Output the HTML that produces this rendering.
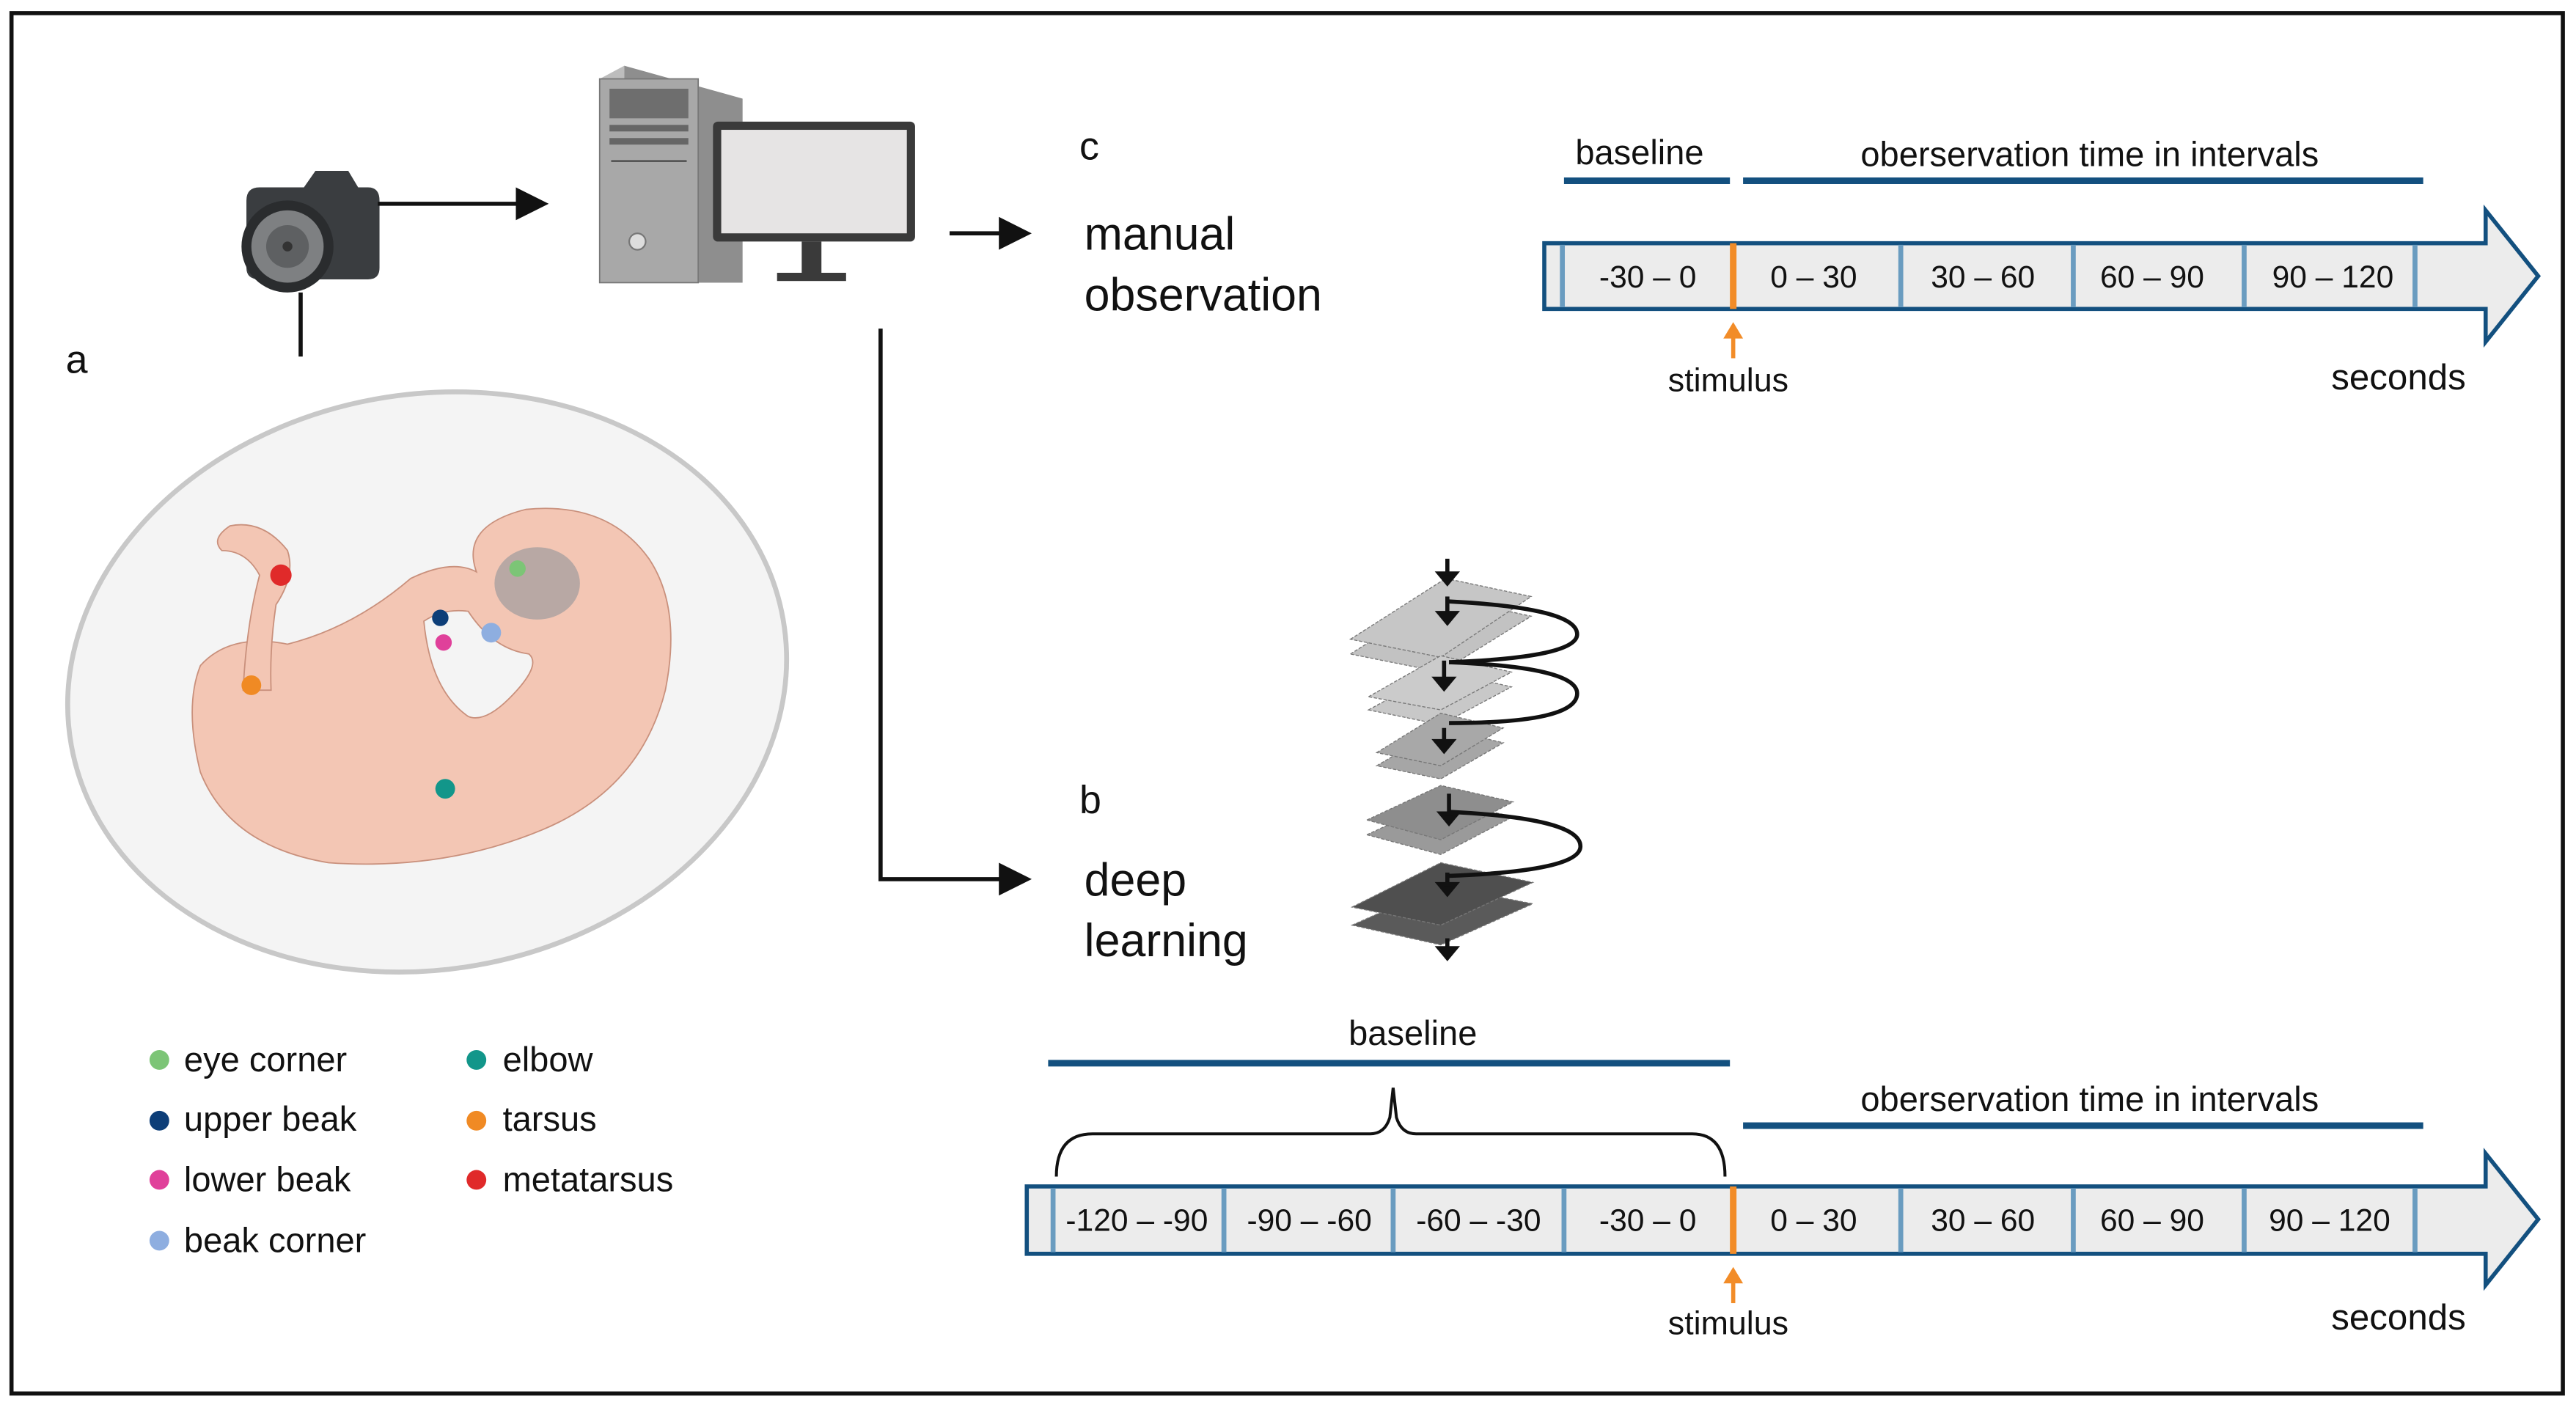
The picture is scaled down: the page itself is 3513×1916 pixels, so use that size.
<!DOCTYPE html>
<html><head><meta charset="utf-8"><style>
html,body{margin:0;padding:0;background:#fff;}
svg{display:block;}
text{font-family:"Liberation Sans",sans-serif;fill:#111;}
</style></head><body>
<svg width="3513" height="1916" viewBox="0 0 1568 855" preserveAspectRatio="none" xmlns="http://www.w3.org/2000/svg">
<rect x="7" y="8" width="1553" height="840" fill="#fff" stroke="#111" stroke-width="2.5"/>

<!-- camera -->
<g>
<path d="M150,122 Q150,114 158,114 L185,114 L192,104 L212,104 L218,114 L224,114 Q231,114 231,122 L231,163 Q231,170 224,170 L158,170 Q150,170 150,163z" fill="#3a3d40"/>
<circle cx="175" cy="150" r="28" fill="#2a2c2e"/>
<circle cx="175" cy="150" r="22" fill="#7e8082"/>
<circle cx="175" cy="150" r="13" fill="#5e6062"/>
<circle cx="175" cy="150" r="3" fill="#333"/>
</g>
<line x1="183" y1="178" x2="183" y2="217" stroke="#111" stroke-width="2.5"/>
<line x1="230" y1="124" x2="318" y2="124" stroke="#111" stroke-width="2.5"/>
<path d="M314,114 L334,124 L314,134z" fill="#111"/>

<!-- computer -->
<path d="M365,48 L380,40 L380,172 L365,170z" fill="#bdbdbd"/>
<path d="M380,40 L452,60 L452,172 L380,172z" fill="#8e8e8e"/>
<rect x="365" y="48" width="60" height="124" fill="#a8a8a8" stroke="#777" stroke-width="0.8"/>
<rect x="371" y="54" width="48" height="18" fill="#6e6e6e"/>
<rect x="371" y="76" width="48" height="4" fill="#666"/>
<rect x="371" y="84" width="48" height="4" fill="#666"/>
<line x1="372" y1="98" x2="418" y2="98" stroke="#444" stroke-width="1"/>
<circle cx="388" cy="147" r="5" fill="#ddd" stroke="#777"/>
<rect x="434" y="74" width="123" height="73" rx="3" fill="#3a3a3a"/>
<rect x="439" y="79" width="113" height="63" fill="#e6e4e4"/>
<rect x="488" y="147" width="12" height="20" fill="#3a3a3a"/>
<rect x="473" y="166" width="42" height="5" fill="#3a3a3a"/>

<line x1="578" y1="142" x2="612" y2="142" stroke="#111" stroke-width="2.5"/>
<path d="M608,132 L628,142 L608,152z" fill="#111"/>
<polyline points="536,200 536,535 612,535" fill="none" stroke="#111" stroke-width="2.5"/>
<path d="M608,525 L628,535 L608,545z" fill="#111"/>

<text x="40" y="227" font-size="24">a</text>
<text x="657" y="97" font-size="24">c</text>
<text x="660" y="152" font-size="28">manual</text>
<text x="660" y="189" font-size="28">observation</text>
<text x="657" y="495" font-size="24">b</text>
<text x="660" y="545" font-size="28">deep</text>
<text x="660" y="582" font-size="28">learning</text>

<!-- egg -->
<ellipse cx="260" cy="415" rx="220" ry="175" transform="rotate(-10 260 415)" fill="#f4f4f4" stroke="#c8c8c8" stroke-width="3"/>
<!-- embryo -->
<g fill="#f3c6b4" stroke="#c9907c" stroke-width="0.8">
<path d="M122,470 Q112,430 122,405 Q140,385 175,392 Q215,382 250,352 Q275,340 290,348 Q280,320 320,310 Q370,305 395,340 Q415,370 405,420 Q390,480 330,505 Q270,530 200,525 Q140,515 122,470z"/>
<path d="M148,420 Q150,380 158,350 Q150,335 135,335 Q128,328 140,320 Q160,316 175,335 Q180,350 168,368 Q164,395 165,420z"/>
<path d="M258,378 Q270,370 285,372 Q300,395 322,398 Q330,405 310,425 Q295,440 285,436 Q262,420 258,378z" fill="#f4f4f4"/>
</g>
<ellipse cx="327" cy="355" rx="26" ry="22" fill="#b8a8a4"/>
<circle cx="315" cy="346" r="5" fill="#7cc576"/>
<circle cx="268" cy="376" r="5" fill="#0d3e78"/>
<circle cx="270" cy="391" r="5" fill="#e0409a"/>
<circle cx="299" cy="385" r="6" fill="#8eaee0"/>
<circle cx="153" cy="417" r="6" fill="#f08a24"/>
<circle cx="171" cy="350" r="6.5" fill="#e02a2a"/>
<circle cx="271" cy="480" r="6" fill="#12968a"/>

<!-- legend -->
<g font-size="21">
<circle cx="97" cy="645" r="6" fill="#7cc576"/><text x="112" y="652">eye corner</text>
<circle cx="97" cy="682" r="6" fill="#0d3e78"/><text x="112" y="688">upper beak</text>
<circle cx="97" cy="718" r="6" fill="#e0409a"/><text x="112" y="725">lower beak</text>
<circle cx="97" cy="755" r="6" fill="#8eaee0"/><text x="112" y="762">beak corner</text>
<circle cx="290" cy="645" r="6" fill="#12968a"/><text x="306" y="652">elbow</text>
<circle cx="290" cy="682" r="6" fill="#f08a24"/><text x="306" y="688">tarsus</text>
<circle cx="290" cy="718" r="6" fill="#e02a2a"/><text x="306" y="725">metatarsus</text>
</g>

<!-- layers -->
<g stroke="#777" stroke-width="0.6" stroke-dasharray="2 1">
<path d="M822,398 L877,363 L932,375 L877,409z" fill="#c2c2c2"/>
<path d="M822,389 L880,352 L932,363 L877,400z" fill="#c6c6c6"/>
<path d="M833,432 L877,408 L920,418 L877,441z" fill="#c8c8c8"/>
<path d="M833,424 L877,399 L920,409 L877,432z" fill="#cbcbcb"/>
<path d="M838,466 L877,443 L915,452 L877,474z" fill="#a6a6a6"/>
<path d="M838,458 L877,434 L915,443 L877,466z" fill="#a8a8a8"/>
<path d="M832,508 L877,487 L921,497 L877,520z" fill="#9a9a9a"/>
<path d="M832,499 L877,478 L921,488 L877,511z" fill="#8e8e8e"/>
<path d="M823,563 L877,539 L933,550 L877,575z" fill="#5a5a5a"/>
<path d="M823,552 L877,525 L933,537 L877,563z" fill="#4f4f4f"/>
</g>
<g fill="none" stroke="#111" stroke-width="2.5">
<path d="M882,366 Q960,370 960,386 Q960,400 882,403"/>
<path d="M882,403 Q960,406 960,422 Q960,440 882,440"/>
<path d="M882,494 Q962,498 962,515 Q962,530 882,533"/>
</g>
<g stroke="#111" stroke-width="2.5" fill="#111">
<line x1="881" y1="340" x2="881" y2="350"/><path d="M876,349 L881,355 L886,349z"/>
<line x1="881" y1="363" x2="881" y2="374"/><path d="M876,373 L881,379 L886,373z"/>
<line x1="879" y1="402" x2="879" y2="414"/><path d="M874,413 L879,419 L884,413z"/>
<line x1="879" y1="443" x2="879" y2="452"/><path d="M874,451 L879,457 L884,451z"/>
<line x1="882" y1="483" x2="882" y2="496"/><path d="M877,495 L882,501 L887,495z"/>
<line x1="881" y1="531" x2="881" y2="539"/><path d="M876,538 L881,544 L886,538z"/>
<line x1="881" y1="571" x2="881" y2="578"/><path d="M876,577 L881,583 L886,577z"/>
</g>

<!-- top timeline -->
<text x="998" y="100" font-size="21" text-anchor="middle">baseline</text>
<text x="1272" y="101" font-size="21" text-anchor="middle">oberservation time in intervals</text>
<rect x="952" y="108" width="101" height="4" fill="#13507f"/>
<rect x="1061" y="108" width="414" height="4" fill="#13507f"/>
<path d="M940,148 L1513,148 L1513,128 L1545,168 L1513,208 L1513,188 L940,188z" fill="#ececec" stroke="#13507f" stroke-width="2.5"/>
<g stroke="#6a9cc0" stroke-width="3">
<line x1="951" y1="149" x2="951" y2="187"/><line x1="1157" y1="149" x2="1157" y2="187"/><line x1="1262" y1="149" x2="1262" y2="187"/><line x1="1366" y1="149" x2="1366" y2="187"/><line x1="1470" y1="149" x2="1470" y2="187"/>
</g>
<line x1="1055" y1="148" x2="1055" y2="188" stroke="#f28c28" stroke-width="4"/>
<g font-size="19" text-anchor="middle">
<text x="1003" y="175">-30 – 0</text><text x="1104" y="175">0 – 30</text><text x="1207" y="175">30 – 60</text><text x="1310" y="175">60 – 90</text><text x="1420" y="175">90 – 120</text>
</g>
<line x1="1055" y1="218" x2="1055" y2="204" stroke="#f28c28" stroke-width="2.5"/>
<path d="M1049,206 L1055,196 L1061,206z" fill="#f28c28"/>
<text x="1052" y="238" font-size="20" text-anchor="middle">stimulus</text>
<text x="1460" y="237" font-size="22" text-anchor="middle">seconds</text>

<!-- bottom timeline -->
<text x="860" y="636" font-size="21" text-anchor="middle">baseline</text>
<rect x="638" y="645" width="415" height="4" fill="#13507f"/>
<text x="1272" y="676" font-size="21" text-anchor="middle">oberservation time in intervals</text>
<rect x="1061" y="683" width="414" height="4" fill="#13507f"/>
<path d="M643,716 Q643,690 665,690 L834,690 Q843,690 846,680 L848,662 L850,680 Q853,690 862,690 L1030,690 Q1050,690 1050,716" fill="none" stroke="#111" stroke-width="1.8"/>
<path d="M625,722 L1513,722 L1513,702 L1545,742 L1513,782 L1513,763 L625,763z" fill="#ececec" stroke="#13507f" stroke-width="2.5"/>
<g stroke="#6a9cc0" stroke-width="3">
<line x1="641" y1="723" x2="641" y2="762"/><line x1="745" y1="723" x2="745" y2="762"/><line x1="848" y1="723" x2="848" y2="762"/><line x1="952" y1="723" x2="952" y2="762"/><line x1="1157" y1="723" x2="1157" y2="762"/><line x1="1262" y1="723" x2="1262" y2="762"/><line x1="1366" y1="723" x2="1366" y2="762"/><line x1="1470" y1="723" x2="1470" y2="762"/>
</g>
<line x1="1055" y1="722" x2="1055" y2="763" stroke="#f28c28" stroke-width="4"/>
<g font-size="19" text-anchor="middle">
<text x="692" y="749">-120 – -90</text><text x="797" y="749">-90 – -60</text><text x="900" y="749">-60 – -30</text><text x="1003" y="749">-30 – 0</text>
<text x="1104" y="749">0 – 30</text><text x="1207" y="749">30 – 60</text><text x="1310" y="749">60 – 90</text><text x="1418" y="749">90 – 120</text>
</g>
<line x1="1055" y1="793" x2="1055" y2="779" stroke="#f28c28" stroke-width="2.5"/>
<path d="M1049,781 L1055,771 L1061,781z" fill="#f28c28"/>
<text x="1052" y="812" font-size="20" text-anchor="middle">stimulus</text>
<text x="1460" y="809" font-size="22" text-anchor="middle">seconds</text>
</svg>
</body></html>
